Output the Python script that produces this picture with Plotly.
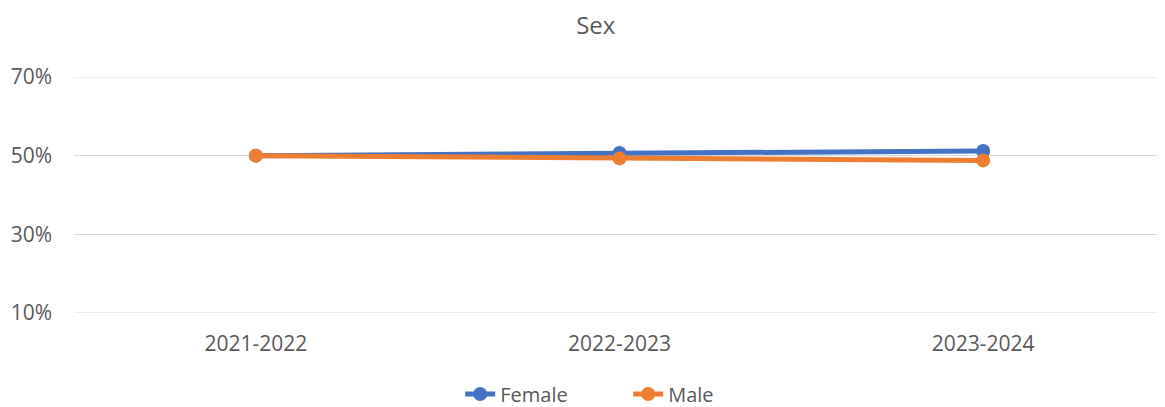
import plotly.graph_objects as go

years = ["2021-2022", "2022-2023", "2023-2024"]
female = [0.500, 0.507, 0.512]
male = [0.500, 0.493, 0.488]
tick_vals = [0.1, 0.3, 0.5, 0.7]
tick_text = ["10%", "30%", "50%", "70%"]

fig = go.Figure()
fig.add_trace(go.Scatter(x=years, y=female, name="Female", mode="lines+markers",
                         line=dict(color="#4472C4", width=5), marker=dict(size=14, color="#4472C4")))
fig.add_trace(go.Scatter(x=years, y=male, name="Male", mode="lines+markers",
                         line=dict(color="#ED7D31", width=5), marker=dict(size=14, color="#ED7D31")))

fig.update_layout(
    width=1157, height=399,
    paper_bgcolor="white", plot_bgcolor="white",
    margin=dict(l=66, r=0, t=69, b=94, autoexpand=False),
    font=dict(family="Open Sans", color="#595959", size=21),
    title=dict(text="Sex", x=0.508, xanchor="center", y=0.957, yanchor="middle",
               font=dict(size=24, color="#595959")),
    xaxis=dict(showgrid=False, showline=False, zeroline=False, ticks="",
               range=[-0.5, 2.5], tickfont=dict(size=21), ticklabelstandoff=16),
    yaxis=dict(range=[0.1, 0.7], tickvals=tick_vals, ticktext=tick_text,
               gridcolor="#D9D9D9", gridwidth=1, zeroline=False, showline=False,
               ticks="", ticklabelstandoff=21, tickfont=dict(size=21)),
    legend=dict(orientation="h", x=0.354, xanchor="left", y=-0.343, yanchor="middle",
                font=dict(size=20), entrywidth=123, entrywidthmode="pixels"),
    showlegend=True,
)
for v in (0.1, 0.7):
    fig.add_shape(type="line", xref="paper", yref="y", x0=0, x1=1, y0=v, y1=v,
                  line=dict(color="#D9D9D9", width=1), layer="below")

fig.write_html("out.html")
